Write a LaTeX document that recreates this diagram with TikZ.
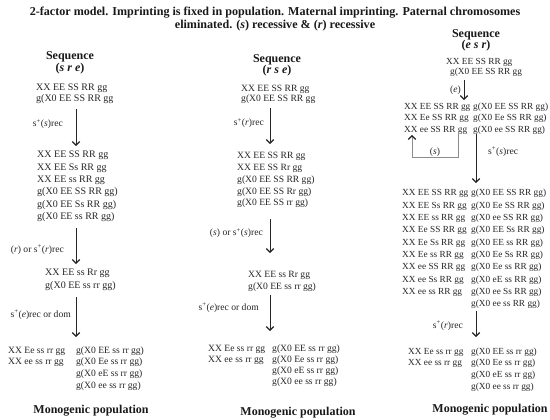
\documentclass[tikz,border=0pt]{standalone}
\usepackage{fontspec}
\setmainfont{Liberation Serif}
\usetikzlibrary{arrows.meta}
\newcommand{\splus}{s\textsuperscript{+}}
\begin{document}
\begin{tikzpicture}[x=1pt,y=-1pt,
  txt/.style={inner sep=0pt, anchor=base west, font=\fontsize{9.6}{11}\selectfont, text=black!85},
  txtA/.style={txt, font=\fontsize{10}{11}\selectfont},
  txtC/.style={txt, font=\fontsize{9.3}{11}\selectfont},
  hd/.style={inner sep=0pt, anchor=base, font=\fontsize{12}{14}\selectfont\bfseries, text=black!90},
  ttl/.style={inner sep=0pt, anchor=base, font=\fontsize{12.1}{14}\selectfont\bfseries, text=black!90},
  lbl/.style={inner sep=0pt, anchor=base east, font=\fontsize{9.6}{11}\selectfont, text=black!85},
  arr/.style={draw=black!85, line width=0.7pt, -{Straight Barb[length=3.5pt,width=7.5pt,line width=1.3pt]}},
  loopln/.style={draw=black!45, line width=1pt, -{Straight Barb[length=3.5pt,width=7.5pt,line width=1.3pt,color=black!85]}},
]
\useasboundingbox (0,0) rectangle (550,420);
% title
\node[ttl] (title1) at (275,16) {2-factor model. Imprinting is fixed in population. Maternal imprinting. Paternal chromosomes};
\node[ttl] (title2) at (275,29) {eliminated. (\textit{s}) recessive \& (\textit{r}) recessive};

% ===== column A =====
\node[hd] (seqA) at (70,60) {Sequence};
\node[hd] (seqAb) at (70,72) {(\textit{s r e})};
\node[txtA] (A1a) at (36,91) {XX EE SS RR gg};
\node[txtA] (A1b) at (36,102) {g(X0 EE SS RR gg};
\coordinate (a1s) at (76,109); \coordinate (a1e) at (76,146);
\draw[arr] (a1s) -- (a1e);
\node[lbl] (la1) at (63,127) {\splus(\textit{s})rec};
\foreach \t [count=\i from 0] in {{XX EE SS RR gg},{XX EE Ss RR gg},{XX EE ss RR gg},{g(X0 EE SS RR gg)},{g(X0 EE Ss RR gg)},{g(X0 EE ss RR gg)}}
  \node[txtA] (A2-\i) at (37,158+12.3*\i) {\t};
\coordinate (a2s) at (76,228); \coordinate (a2e) at (76,264);
\draw[arr] (a2s) -- (a2e);
\node[lbl] (la2) at (64,252) {(\textit{r}) or \splus(\textit{r})rec};
\node[txtA] (A3a) at (45,276) {XX EE ss Rr gg};
\node[txtA] (A3b) at (45,288) {g(X0 EE ss rr gg)};
\coordinate (a3s) at (76,297); \coordinate (a3e) at (76,337);
\draw[arr] (a3s) -- (a3e);
\node[lbl] (la3) at (71,317) {\splus(\textit{e})rec or dom};
\foreach \t [count=\i from 0] in {{XX Ee ss rr gg},{XX ee ss rr gg}}
  \node[txt] (A4x-\i) at (8,353+11.7*\i) {\t};
\foreach \t [count=\i from 0] in {{g(X0 EE ss rr gg)},{g(X0 Ee ss rr gg)},{g(X0 eE ss rr gg)},{g(X0 ee ss rr gg)}}
  \node[txt] (A4g-\i) at (76,353+11.7*\i) {\t};
\node[hd] (monoA) at (91,413) {Monogenic population};

% ===== column B =====
\node[hd] (seqB) at (277,63) {Sequence};
\node[hd] (seqBb) at (277,74) {(\textit{r s e})};
\node[txt] (B1a) at (241,92) {XX EE SS RR gg};
\node[txt] (B1b) at (241,102) {g(X0 EE SS RR gg};
\coordinate (b1s) at (270,108); \coordinate (b1e) at (270,144);
\draw[arr] (b1s) -- (b1e);
\node[lbl] (lb1) at (264,126) {\splus(\textit{r})rec};
\foreach \t [count=\i from 0] in {{XX EE SS RR gg},{XX EE SS Rr gg},{g(X0 EE SS RR gg)},{g(X0 EE SS Rr gg)},{g(X0 EE SS rr gg)}}
  \node[txt] (B2-\i) at (237,159+11.7*\i) {\t};
\coordinate (b2s) at (270,219); \coordinate (b2e) at (270,253);
\draw[arr] (b2s) -- (b2e);
\node[lbl] (lb2) at (263,236) {(\textit{s}) or \splus(\textit{s})rec};
\node[txt] (B3a) at (248,277) {XX EE ss Rr gg};
\node[txt] (B3b) at (248,289) {g(X0 EE ss rr gg)};
\coordinate (b3s) at (270,295); \coordinate (b3e) at (270,331);
\draw[arr] (b3s) -- (b3e);
\node[lbl] (lb3) at (259,310) {\splus(\textit{e})rec or dom};
\foreach \t [count=\i from 0] in {{XX Ee ss rr gg},{XX ee ss rr gg}}
  \node[txt] (B4x-\i) at (208,351+11*\i) {\t};
\foreach \t [count=\i from 0] in {{g(X0 EE ss rr gg)},{g(X0 Ee ss rr gg)},{g(X0 eE ss rr gg)},{g(X0 ee ss rr gg)}}
  \node[txt] (B4g-\i) at (272,351+11*\i) {\t};
\node[hd] (monoB) at (298,415) {Monogenic population};

% ===== column C =====
\node[hd] (seqC) at (476,38) {Sequence};
\node[hd] (seqCb) at (476,49) {(\textit{e s r})};
\node[txtC] (C1a) at (446,65) {XX EE SS RR gg};
\node[txtC] (C1b) at (450,75) {g(X0 EE SS RR gg};
\coordinate (c1s) at (464,80); \coordinate (c1e) at (464,100);
\draw[arr] (c1s) -- (c1e);
\node[lbl] (lc1) at (461,93) {(\textit{e})};
\foreach \t [count=\i from 0] in {{XX EE SS RR gg},{XX Ee SS RR gg},{XX ee SS RR gg}}
  \node[txtC] (C2x-\i) at (404,110+11*\i) {\t};
\foreach \t [count=\i from 0] in {{g(X0 EE SS RR gg)},{g(X0 Ee SS RR gg)},{g(X0 ee SS RR gg)}}
  \node[txtC] (C2g-\i) at (473,110+11*\i) {\t};
\coordinate (l1) at (458,134); \coordinate (l2) at (458,158);
\coordinate (l3) at (412,158); \coordinate (l4) at (412,135);
\draw[loopln] (l1) -- (l2) -- (l3) -- (l4);
\node[txt, anchor=base] (ls) at (435,154) {(\textit{s})};
\coordinate (c2s) at (476,134); \coordinate (c2e) at (476,183);
\draw[arr] (c2s) -- (c2e);
\node[txt] (lc2) at (488,154) {\splus(\textit{s})rec};
\foreach \t [count=\i from 0] in {{XX EE SS RR gg},{XX EE Ss RR gg},{XX EE ss RR gg},{XX Ee SS RR gg},{XX Ee Ss RR gg},{XX Ee ss RR gg},{XX ee SS RR gg},{XX ee Ss RR gg},{XX ee ss RR gg}}
  \node[txtC] (C3x-\i) at (402,196+12.3*\i) {\t};
\foreach \t [count=\i from 0] in {{g(X0 EE SS RR gg)},{g(X0 Ee SS RR gg)},{g(X0 ee SS RR gg)},{g(X0 EE Ss RR gg)},{g(X0 EE ss RR gg)},{g(X0 Ee Ss RR gg)},{g(X0 Ee ss RR gg)},{g(X0 eE ss RR gg)},{g(X0 ee Ss RR gg)},{g(X0 ee ss RR gg)}}
  \node[txtC] (C3g-\i) at (471,196+12.3*\i) {\t};
\coordinate (c3s) at (476,311); \coordinate (c3e) at (476,337);
\draw[arr] (c3s) -- (c3e);
\node[lbl] (lc3) at (463,328) {\splus(\textit{r})rec};
\foreach \t [count=\i from 0] in {{XX Ee ss rr gg},{XX ee ss rr gg}}
  \node[txtC] (C4x-\i) at (408,354+11.7*\i) {\t};
\foreach \t [count=\i from 0] in {{g(X0 EE ss rr gg)},{g(X0 Ee ss rr gg)},{g(X0 eE ss rr gg)},{g(X0 ee ss rr gg)}}
  \node[txtC] (C4g-\i) at (471,354+11.7*\i) {\t};
\node[hd] (monoC) at (490,412) {Monogenic population};
\end{tikzpicture}
\end{document}
